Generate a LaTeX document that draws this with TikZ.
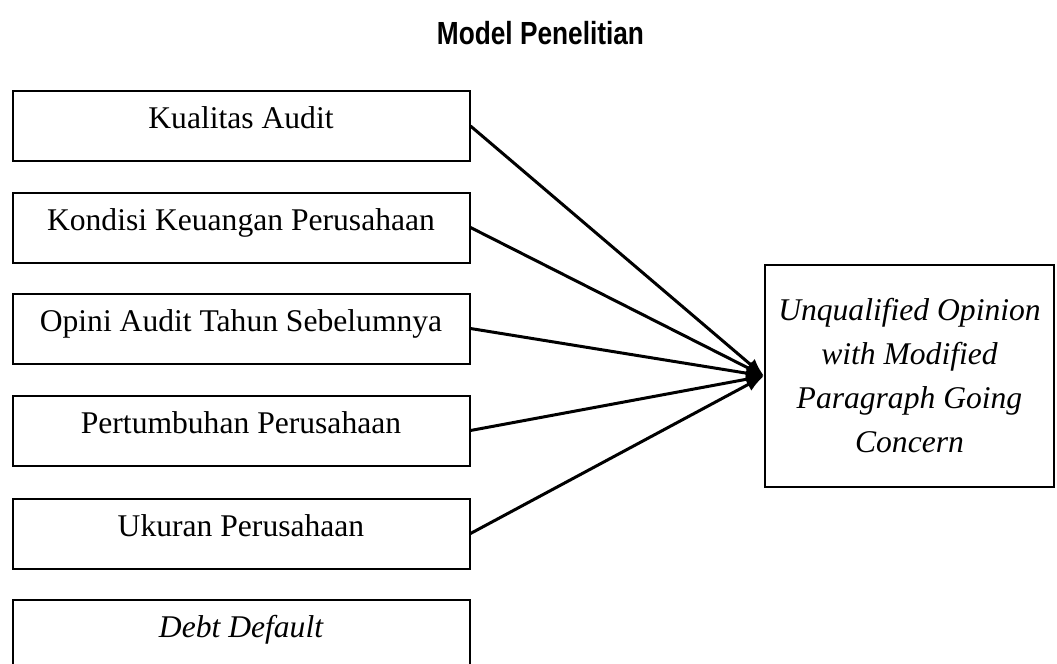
\documentclass[tikz,border=0pt]{standalone}
\usepackage{fontspec}
\setmainfont{Liberation Serif}
\setsansfont{Liberation Sans}
\usetikzlibrary{arrows.meta}

\tikzset{
    faktor/.style={draw, line width=1pt, minimum width=228.5pt, minimum height=35pt,
        inner sep=0pt, text height=0.7em, text depth=0.45em,
        font=\fontsize{15.8}{22}\selectfont},
    panah/.style={line width=1.5pt, -{Latex[length=9pt,width=7pt]}}
}

\begin{document}
\begin{tikzpicture}[x=0.5pt,y=-0.5pt]
    \useasboundingbox (0,0) rectangle (1057,664);

    \node (judul) at (540.5,33.5) {\scalebox{0.82}[1]{\sffamily\bfseries\fontsize{16}{19}\selectfont Model Penelitian}};

    \node[faktor] (kualitas) at (241,126) {Kualitas Audit};
    \node[faktor] (kondisi) at (241,227.5) {Kondisi Keuangan Perusahaan};
    \node[faktor] (opini) at (241,328.5) {Opini Audit Tahun Sebelumnya};
    \node[faktor] (pertumbuhan) at (241,430.5) {Pertumbuhan Perusahaan};
    \node[faktor] (ukuran) at (241,533.5) {Ukuran Perusahaan};
    \node[faktor] (debt) at (241,635) {\itshape Debt Default};

    \node[draw, line width=1pt, minimum width=144.5pt, minimum height=111pt, inner sep=0pt,
        align=center, font=\itshape\fontsize{15.8}{22}\selectfont] (going) at (909.5,376)
        {Unqualified Opinion\\with Modified\\Paragraph Going\\Concern};

    \foreach \asal in {kualitas,kondisi,opini,pertumbuhan,ukuran}
        \draw[panah] (\asal.east) -- (going.west);
\end{tikzpicture}
\end{document}
